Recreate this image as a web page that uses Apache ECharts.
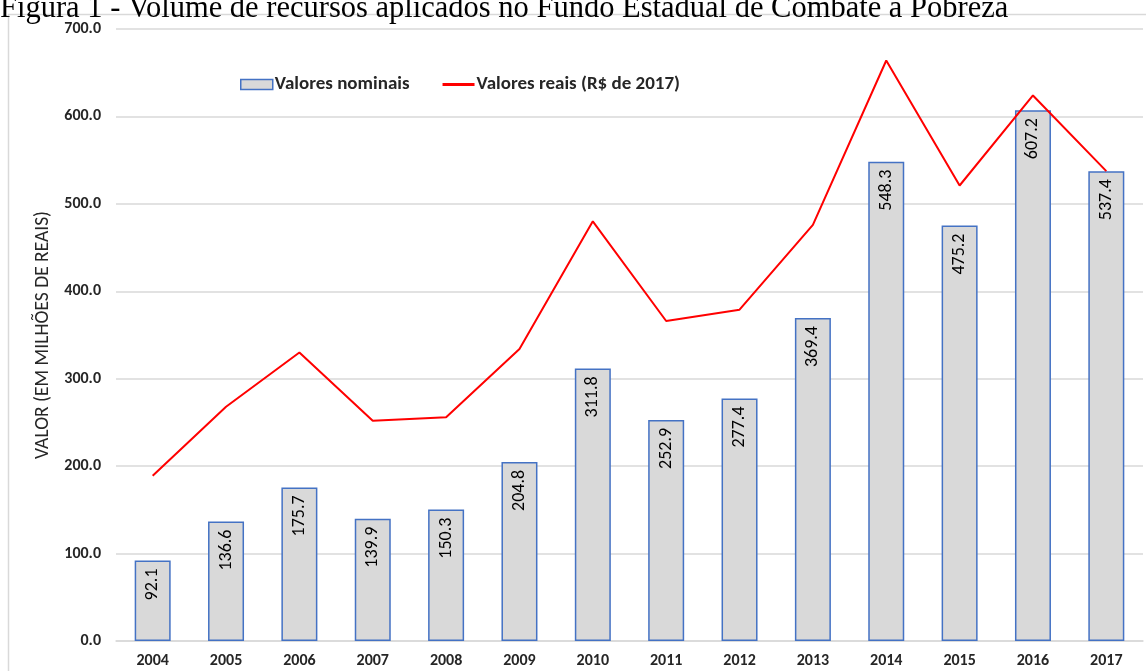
<!DOCTYPE html>
<html>
<head>
<meta charset="utf-8">
<script src="https://cdn.jsdelivr.net/npm/echarts@6/dist/echarts.min.js"></script>
<style>
html,body{margin:0;padding:0;background:#fff;}
#chart{width:1146px;height:671px;}
</style>
</head>
<body>
<div id="chart"></div>
<script>
const titleText = 'Figura 1 - Volume de recursos aplicados no Fundo Estadual de Combate à Pobreza';
const yAxisName = 'VALOR (EM MILHÕES DE REAIS)';
const years = ['2004','2005','2006','2007','2008','2009','2010','2011','2012','2013','2014','2015','2016','2017'];
const nominal = [92.1, 136.6, 175.7, 139.9, 150.3, 204.8, 311.8, 252.9, 277.4, 369.4, 548.3, 475.2, 607.2, 537.4];
const real = [189, 268, 330, 252, 256, 334, 480, 366, 379, 476, 664, 521, 624, 537.4];
const seriesNames = ['Valores nominais', 'Valores reais (R$ de 2017)'];

const FONT = 'Carlito, "Liberation Sans", sans-serif';
const chart = echarts.init(document.getElementById('chart'));
chart.setOption({
  animation: false,
  backgroundColor: '#fff',
  graphic: [
    {
      type: 'rect', z: -10,
      shape: { x: 8.5, y: 14.5, width: 1160, height: 700 },
      style: { fill: 'none', stroke: '#d9d9d9', lineWidth: 1.5 }
    },
    {
      type: 'text', left: 0, top: -7,
      style: { text: titleText, font: '30.5px "Liberation Serif", "Times New Roman", serif', fill: '#000' }
    }
  ],
  legend: {
    top: 70, left: 235, itemGap: 33,
    itemWidth: 32, itemHeight: 10,
    textStyle: { fontFamily: FONT, fontWeight: 'bold', fontSize: 19, color: '#262626', padding: [0,0,0,-3] },
    data: [
      { name: seriesNames[0], icon: 'rect', itemStyle: { color: '#d9d9d9', borderColor: '#4472c4', borderWidth: 1.5 } },
      { name: seriesNames[1], icon: 'path://M0,4.5H10V5.5H0Z' }
    ]
  },
  grid: { left: 116, right: 3, top: 29, bottom: 30, containLabel: false },
  xAxis: {
    type: 'category', data: years,
    axisLine: { lineStyle: { color: '#d9d9d9', width: 1.5 } },
    axisTick: { show: false },
    axisLabel: { fontFamily: FONT, fontWeight: 'bold', fontSize: 16, color: '#262626', margin: 12 }
  },
  yAxis: {
    type: 'value', min: 0, max: 700, interval: 100,
    name: yAxisName, nameLocation: 'middle', nameGap: 58, nameRotate: 90,
    nameTextStyle: { fontFamily: FONT, fontSize: 19.5, color: '#262626' },
    axisLine: { show: false }, axisTick: { show: false },
    splitLine: { lineStyle: { color: '#d9d9d9', width: 1.5 } },
    axisLabel: {
      fontFamily: FONT, fontWeight: 'bold', fontSize: 16, color: '#262626', margin: 15,
      formatter: v => v.toFixed(1)
    }
  },
  series: [
    {
      name: seriesNames[0], type: 'bar', data: nominal, barWidth: 36,
      itemStyle: { color: '#d9d9d9', borderColor: '#4472c4', borderWidth: 1.5 },
      label: {
        show: true, position: 'insideTop', rotate: 90, distance: 8,
        align: 'right', verticalAlign: 'middle',
        fontFamily: FONT, fontSize: 18, color: '#000',
        formatter: p => p.value.toFixed(1)
      },
      z: 2
    },
    {
      name: seriesNames[1], type: 'line', data: real,
      symbol: 'none', lineStyle: { color: '#ff0000', width: 2 }, itemStyle: { color: '#ff0000' },
      z: 3
    }
  ]
});
</script>
</body>
</html>
